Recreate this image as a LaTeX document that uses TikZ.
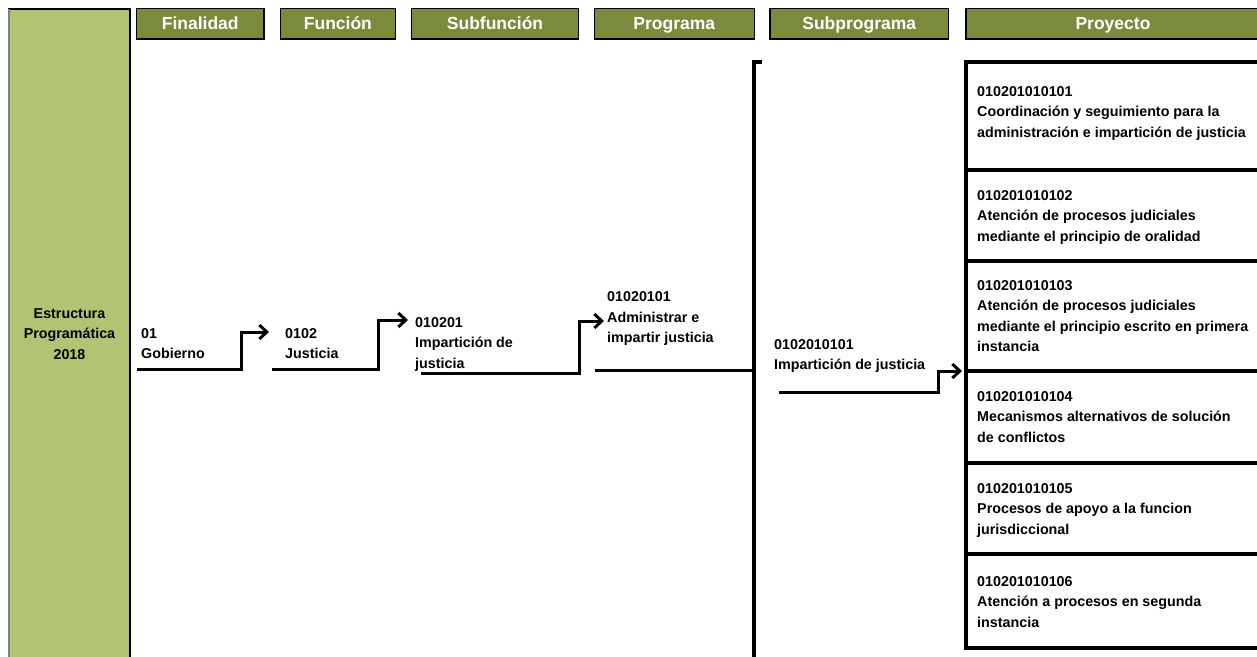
\documentclass[tikz,border=0pt]{standalone}
\usepackage{fontspec}
\setmainfont{Liberation Sans}
\usetikzlibrary{arrows.meta}
\definecolor{hdrgreen}{RGB}{122,139,61}
\definecolor{sidegreen}{RGB}{176,196,116}
\begin{document}
\begin{tikzpicture}[x=1pt,y=-1pt,
  hdr/.style={draw=black, line width=1.3pt, fill=hdrgreen, text=white,
    font=\fontsize{17.5}{20}\selectfont\bfseries, inner sep=0pt,
    text height=16pt, text depth=3.6pt, minimum height=30.5pt},
  txt/.style={font=\fontsize{14.3}{20.5}\selectfont\bfseries, align=left,
    inner sep=0pt, anchor=north west},
  pbox/.style={draw=black, line width=4pt},
  conn/.style={line width=3pt, -{Straight Barb[length=7.5pt,width=14pt]}},
  plain/.style={line width=3pt}]
\useasboundingbox (0,0) rectangle (1257,656);
\clip (0,0) rectangle (1257,656);
\fill[white] (0,0) rectangle (1257,656);

% side box
\draw[fill=sidegreen, line width=1.5pt] (9,9) rectangle (130,700);
\draw[gray, line width=1.5pt] (9,9) -- (9,700);
\node[txt, align=center, anchor=north] (side) at (69.5,308)
  {Estructura\\Programática\\2018};

% headers
\node[hdr, minimum width=127.5pt] (h1) at (200.25,23.75) {Finalidad};
\node[hdr, minimum width=114.8pt] (h2) at (337.9,23.75) {Función};
\node[hdr, minimum width=166.6pt] (h3) at (495,23.75) {Subfunción};
\node[hdr, minimum width=160pt] (h4) at (674.3,23.75) {Programa};
\node[hdr, minimum width=178.3pt] (h5) at (859.2,23.75) {Subprograma};
\node[hdr, minimum width=294pt] (h6) at (1113,23.75) {Proyecto};

% project boxes
\draw[pbox] (966,62) rectangle (1262,170);
\draw[pbox] (966,170) rectangle (1262,261);
\draw[pbox] (966,261) rectangle (1262,371);
\draw[pbox] (966,371) rectangle (1262,463);
\draw[pbox] (966,463) rectangle (1262,554);
\draw[pbox] (966,554) rectangle (1262,648);

\node[txt] (p1) at (977,86) {010201010101\\Coordinación y seguimiento para la\\administración e impartición de justicia};
\node[txt] (p2) at (977,190) {010201010102\\Atención de procesos judiciales\\mediante el principio de oralidad};
\node[txt] (p3) at (977,280) {010201010103\\Atención de procesos judiciales\\mediante el principio escrito en primera\\instancia};
\node[txt] (p4) at (977,391) {010201010104\\Mecanismos alternativos de solución\\de conflictos};
\node[txt] (p5) at (977,483) {010201010105\\Procesos de apoyo a la funcion\\jurisdiccional};
\node[txt] (p6) at (977,576) {010201010106\\Atención a procesos en segunda\\instancia};

% chain texts
\node[txt] (t1) at (141,328) {01\\Gobierno};
\node[txt] (t2) at (285,328) {0102\\Justicia};
\node[txt] (t3) at (415,317) {010201\\Impartición de\\justicia};
\node[txt] (t4) at (607,291.5) {01020101\\Administrar e\\impartir justicia};
\node[txt] (t5) at (774,339) {0102010101\\Impartición de justicia};

% connector coordinates
\coordinate (a1s) at (137,369.5);
\coordinate (a1k) at (241,332);
\coordinate (a1e) at (269,332);
\coordinate (a2s) at (272,369.5);
\coordinate (a2k) at (378,320);
\coordinate (a2e) at (408,320);
\coordinate (a3s) at (421,373.5);
\coordinate (a3k) at (579,321);
\coordinate (a3e) at (604,321);
\coordinate (ps) at (595,370);
\coordinate (pe) at (754,370);
\coordinate (bt) at (762,62);
\coordinate (bc) at (754,62);
\coordinate (bb) at (754,670);
\coordinate (a4s) at (779,392);
\coordinate (a4k) at (938,371);
\coordinate (a4e) at (962,371);

\draw[conn] (a1s) -| (a1k) -- (a1e);
\draw[conn] (a2s) -| (a2k) -- (a2e);
\draw[conn] (a3s) -| (a3k) -- (a3e);
\draw[plain] (ps) -- (pe);
\draw[line width=4pt] (bt) -- (bc) -- (bb);
\draw[conn] (a4s) -| (a4k) -- (a4e);
\end{tikzpicture}
\end{document}
